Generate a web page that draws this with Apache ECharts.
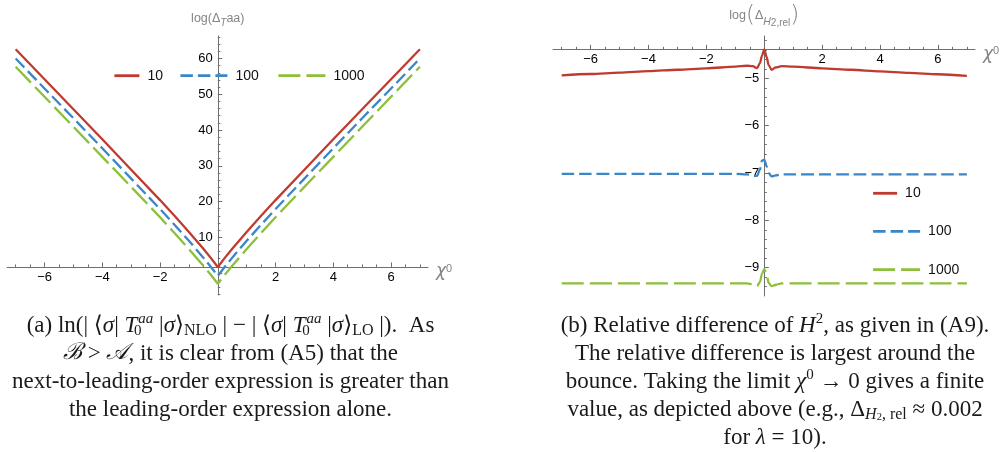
<!DOCTYPE html>
<html><head><meta charset="utf-8">
<script src="https://cdn.jsdelivr.net/npm/echarts@6/dist/echarts.min.js"></script>
<style>html,body{margin:0;padding:0;background:#fff}#c{width:1000px;height:452px}</style>
</head><body><div id="c"></div>
<script>
// ---------- data ----------
const seriesNames = ['10', '100', '1000'];

// panel (a): log(Δ_T^aa) vs χ0
const xA = [-7, -6, -5, -4, -3, -2, -1.5, -1, -0.5, -0.25, 0, 0.25, 0.5, 1, 1.5, 2, 3, 4, 5, 6, 7];
const aRed = [62.6, 54.2, 45.8, 37.4, 28.9, 20.4, 16.0, 11.5, 6.8, 4.3, 1.7, 4.3, 6.8, 11.5, 16.0, 20.4, 28.9, 37.4, 45.8, 54.2, 62.6];
const aBlue = [60.0, 51.6, 43.3, 34.9, 26.4, 17.9, 13.5, 9.0, 4.3, 1.8, -0.8, 1.8, 4.3, 9.0, 13.5, 17.9, 26.4, 34.9, 43.3, 51.6, 60.0];
const aGreen = [57.7, 49.3, 40.9, 32.5, 24.1, 15.6, 11.2, 6.7, 2.0, -0.4, -3.0, -0.4, 2.0, 6.7, 11.2, 15.6, 24.1, 32.5, 40.9, 49.3, 57.7];

// panel (b): log(Δ_H2,rel) vs χ0
const xB = [-7, -6, -5, -4, -3, -2, -1, -0.6, -0.4, -0.25, -0.15, -0.08, 0, 0.08, 0.15, 0.25, 0.4, 0.6, 1, 2, 3, 4, 5, 6, 7];
const bRed = [-4.94, -4.91, -4.88, -4.85, -4.82, -4.79, -4.755, -4.735, -4.745, -4.785, -4.68, -4.52, -4.39, -4.55, -4.72, -4.82, -4.77, -4.745, -4.755, -4.79, -4.82, -4.855, -4.885, -4.915, -4.95];
const bBlue = [-7.02, -7.02, -7.02, -7.02, -7.02, -7.02, -7.02, -7.03, -7.05, -7.06, -6.93, -6.74, -6.72, -6.86, -7.0, -7.07, -7.05, -7.03, -7.03, -7.03, -7.03, -7.03, -7.03, -7.03, -7.03];
const bGreen = [-9.33, -9.33, -9.33, -9.33, -9.33, -9.33, -9.33, -9.33, -9.35, -9.39, -9.3, -9.13, -9.03, -9.15, -9.32, -9.39, -9.36, -9.33, -9.33, -9.33, -9.33, -9.33, -9.33, -9.33, -9.33];

// axis ranges and crossings
const xRange = [-7.3, 7.28];
const aYRange = [-6.15, 66.3];
const aXAxisCross = 1.7;   // y value where the horizontal axis of (a) sits
const bYRange = [-9.598, -4.107];
const bXAxisCross = -4.388; // y value where the horizontal axis of (b) sits
const yAxisCross = 0;       // x value where the vertical axes sit

// tick values
const xMajorTicks = [-6, -4, -2, 2, 4, 6];
const xMinorTicks = [-7, -6.5, -5.5, -5, -4.5, -3.5, -3, -2.5, -1.5, -1, -0.5, 0.5, 1, 1.5, 2.5, 3, 3.5, 4.5, 5, 5.5, 6.5, 7];
const aYMajorTicks = [0, 10, 20, 30, 40, 50, 60];
const aYLabels = [10, 20, 30, 40, 50, 60];
const aYMinorTicks = [-6, -4, -2, 2, 4, 6, 8, 12, 14, 16, 18, 22, 24, 26, 28, 32, 34, 36, 38, 42, 44, 46, 48, 52, 54, 56, 58, 62, 64, 66];
const bYMajorTicks = [-9, -8, -7, -6, -5];
const bYMinorTicks = [-9.4, -9.2, -8.8, -8.6, -8.4, -8.2, -7.8, -7.6, -7.4, -7.2, -6.8, -6.6, -6.4, -6.2, -5.8, -5.6, -5.4, -5.2, -4.8, -4.6, -4.4, -4.2];

// ---------- layout / style ----------
const panels = [
  { left: 7, top: 36, width: 421, height: 259 },
  { left: 553, top: 36, width: 422, height: 260 }
];
const colors = ['#BF3A2F', '#3A86C6', '#8CBF3A'];
const dashes = ['solid', [12.5, 5], [22, 6]];
const axisGray = '#6f6f6f';
const nameGray = '#858585';
const tickFont = 'Liberation Sans';
const serif = "'Liberation Serif', 'DejaVu Serif', serif";

const fmt = v => (v < 0 ? '\u2212' + Math.abs(v) : String(v));
function pairs(xs, ys) { return xs.map((x, i) => [x, ys[i]]); }

// grids: data grid, grid whose bottom edge is the horizontal axis, grid whose left edge is the vertical axis
function panelGrids(p, yRange, xCross) {
  const fracTop = (yRange[1] - xCross) / (yRange[1] - yRange[0]);
  const fracLeft = (yAxisCross - xRange[0]) / (xRange[1] - xRange[0]);
  const base = { containLabel: false, outerBoundsMode: 'none' };
  return [
    Object.assign({}, base, { left: p.left, top: p.top, width: p.width, height: p.height }),
    Object.assign({}, base, { left: p.left, top: p.top, width: p.width, height: p.height * fracTop }),
    Object.assign({}, base, { left: p.left + p.width * fracLeft, top: p.top, width: 10, height: p.height })
  ];
}

const hiddenAxis = (gridIndex, min, max) => ({ type: 'value', gridIndex, min, max, show: false,
  axisLine: { onZero: false }, splitLine: { show: false } });

const tickLabelStyle = { color: '#000', fontSize: 13, fontFamily: tickFont };

function majorX(gridIndex) {
  return {
    type: 'value', gridIndex, min: xRange[0], max: xRange[1], position: 'bottom',
    axisLine: { show: true, onZero: false, lineStyle: { color: axisGray, width: 1 } },
    axisTick: { show: true, inside: true, length: 4.5, customValues: xMajorTicks, lineStyle: { color: axisGray } },
    axisLabel: Object.assign({ show: true, margin: 4, customValues: xMajorTicks, formatter: fmt }, tickLabelStyle),
    splitLine: { show: false },
    name: '{c|\u03C7}{s|0}', nameLocation: 'end', nameGap: 8,
    nameTextStyle: { padding: [10, 0, 0, 0], rich: {
      c: { fontSize: 17, fontStyle: 'italic', color: nameGray, fontFamily: 'DejaVu Sans', fontWeight: 200 },
      s: { fontSize: 11, color: nameGray, verticalAlign: 'top', fontFamily: 'Liberation Sans' } } }
  };
}
function minorX(gridIndex) {
  return {
    type: 'value', gridIndex, min: xRange[0], max: xRange[1], position: 'bottom',
    axisLine: { show: false, onZero: false },
    axisTick: { show: true, inside: true, length: 2.5, customValues: xMinorTicks, lineStyle: { color: axisGray } },
    axisLabel: { show: false, customValues: xMinorTicks },
    splitLine: { show: false }
  };
}
function majorY(gridIndex, range, ticks, labels, name, nameGap, rich) {
  return {
    type: 'value', gridIndex, min: range[0], max: range[1], position: 'left',
    axisLine: { show: true, onZero: false, lineStyle: { color: axisGray, width: 1 } },
    axisTick: { show: true, inside: true, length: 4.5, customValues: ticks, lineStyle: { color: axisGray } },
    axisLabel: Object.assign({ show: true, margin: 5, customValues: labels, formatter: fmt }, tickLabelStyle),
    splitLine: { show: false },
    name, nameLocation: 'end', nameGap,
    nameTextStyle: { align: 'center', rich }
  };
}
function minorY(gridIndex, range, ticks) {
  return {
    type: 'value', gridIndex, min: range[0], max: range[1], position: 'left',
    axisLine: { show: false, onZero: false },
    axisTick: { show: true, inside: true, length: 2.5, customValues: ticks, lineStyle: { color: axisGray } },
    axisLabel: { show: false, customValues: ticks },
    splitLine: { show: false }
  };
}

const nameRichA = {
  a: { fontSize: 12.5, color: nameGray, fontFamily: 'Liberation Sans', lineHeight: 18, verticalAlign: 'middle' },
  s: { fontSize: 10, color: nameGray, fontFamily: 'Liberation Sans', fontStyle: 'italic', lineHeight: 12, verticalAlign: 'bottom' }
};
const nameRichB = {
  a: { fontSize: 12.5, color: nameGray, fontFamily: 'Liberation Sans', lineHeight: 24, verticalAlign: 'middle' },
  p: { fontSize: 23, color: nameGray, fontFamily: 'DejaVu Sans', fontWeight: 200, lineHeight: 24, verticalAlign: 'middle' },
  s: { fontSize: 10.5, color: nameGray, fontFamily: 'Liberation Sans', fontStyle: 'italic', lineHeight: 12, verticalAlign: 'bottom' },
  t: { fontSize: 10, color: nameGray, fontFamily: 'Liberation Sans', lineHeight: 20, verticalAlign: 'bottom' },
  r: { fontSize: 10, color: nameGray, fontFamily: 'Liberation Sans', lineHeight: 12, verticalAlign: 'bottom' }
};

function mkSeries(xIdx, yIdx, xs, ysList, smooth) {
  return ysList.map((ys, k) => ({
    type: 'line', name: seriesNames[k], xAxisIndex: xIdx, yAxisIndex: yIdx,
    data: pairs(xs, ys), symbol: 'none', showSymbol: false, smooth, smoothMonotone: 'x', clip: false,
    lineStyle: { color: colors[k], width: 2.3, type: dashes[k] }, itemStyle: { color: colors[k] },
    z: 3 - k
  }));
}

function mkLegend(name, left, centerY, width) {
  return {
    data: [name], left, top: centerY - 7, orient: 'horizontal', itemWidth: width, itemHeight: 14,
    padding: 0, selectedMode: false,
    itemStyle: { opacity: 0 },
    lineStyle: { width: 2.8 },
    textStyle: { fontSize: 14, color: '#111', fontFamily: tickFont, padding: [0, 0, 0, 3] }
  };
}

// captions
const capRich = {
  i: { fontStyle: 'italic', fontSize: 23, fontFamily: serif, lineHeight: 27 },
  sup: { fontStyle: 'italic', fontSize: 15, fontFamily: serif, lineHeight: 15, verticalAlign: 'top' },
  supr: { fontSize: 15, fontFamily: serif, lineHeight: 15, verticalAlign: 'top' },
  sub0: { fontSize: 15, fontFamily: serif, lineHeight: 12, verticalAlign: 'bottom', width: 1 },
  sc: { fontSize: 16, fontFamily: serif, lineHeight: 15, verticalAlign: 'bottom' },
  subi: { fontStyle: 'italic', fontSize: 16, fontFamily: serif, lineHeight: 15, verticalAlign: 'bottom' },
  subs: { fontSize: 10.5, fontFamily: serif, lineHeight: 25, verticalAlign: 'bottom' },
  subr: { fontSize: 16, fontFamily: serif, lineHeight: 15, verticalAlign: 'bottom' },
  cal: { fontStyle: 'italic', fontSize: 23, fontFamily: "'DejaVu Serif', serif", lineHeight: 27 }
};
const T0aa = '{i|T}{sub0|0}{sup|aa}';
const capA = [
  '(a) ln(| \u27E8{i|\u03C3}| ' + T0aa + ' |{i|\u03C3}\u27E9{sc|NLO} | \u2212 | \u27E8{i|\u03C3}| ' + T0aa + ' |{i|\u03C3}\u27E9{sc|LO} |).  As',
  '{cal|\u212C} > {cal|\uD835\uDC9C}, it is clear from (A5) that the',
  'next-to-leading-order expression is greater than',
  'the leading-order expression alone.'
];
const capB = [
  '(b) Relative difference of {i|H}{supr|2}, as given in (A9).',
  'The relative difference is largest around the',
  'bounce. Taking the limit {i|\u03C7}{supr|0} \u2192 0 gives a finite',
  'value, as depicted above (e.g., \u0394{subi|H}{subs|2}{subr|, rel} \u2248 0.002',
  'for {i|\u03BB} = 10).'
];
const capAY = [325.5, 353.5, 381.5, 409.5];
const capBY = [325.5, 353.5, 381.5, 409.5, 437.5];

function capText(lines, cx, ys) {
  return lines.map((t, k) => ({
    type: 'text', x: cx, y: ys[k], silent: true,
    style: { text: t, rich: capRich, fontSize: 23, fontFamily: serif, fill: '#1a1a1a', lineHeight: 27,
             align: 'center', verticalAlign: 'middle' }
  }));
}

const gridsA = panelGrids(panels[0], aYRange, aXAxisCross);
const gridsB = panelGrids(panels[1], bYRange, bXAxisCross);

const chart = echarts.init(document.getElementById('c'), null, { renderer: 'canvas' });
chart.setOption({
  animation: false,
  backgroundColor: '#fff',
  grid: gridsA.concat(gridsB),
  xAxis: [
    hiddenAxis(0, xRange[0], xRange[1]), majorX(1), minorX(1), hiddenAxis(2, xRange[0], xRange[1]),
    hiddenAxis(3, xRange[0], xRange[1]), majorX(4), minorX(4), hiddenAxis(5, xRange[0], xRange[1])
  ],
  yAxis: [
    hiddenAxis(0, aYRange[0], aYRange[1]), hiddenAxis(1, aXAxisCross, aYRange[1]),
    majorY(2, aYRange, aYMajorTicks, aYLabels, '{a|log(\u0394}{s|T}{a|aa)}', 8, nameRichA),
    minorY(2, aYRange, aYMinorTicks),
    hiddenAxis(3, bYRange[0], bYRange[1]), hiddenAxis(4, bXAxisCross, bYRange[1]),
    majorY(5, bYRange, bYMajorTicks, bYMajorTicks, '{a|log}{p|(}{a|\u0394}{s|H}{t|2}{r|,rel}{p|)}', 8, nameRichB),
    minorY(5, bYRange, bYMinorTicks)
  ],
  legend: [
    mkLegend('10', 113, 75.7, 25), mkLegend('100', 179, 75.7, 47), mkLegend('1000', 277, 75.7, 47),
    mkLegend('10', 871.7, 193.3, 24), mkLegend('100', 871.7, 231.3, 47), mkLegend('1000', 871.7, 269.7, 47)
  ],
  series: [].concat(mkSeries(0, 0, xA, [aRed, aBlue, aGreen], false), mkSeries(4, 4, xB, [bRed, bBlue, bGreen], 0.3)),
  graphic: [].concat(capText(capA, 230.5, capAY), capText(capB, 775, capBY))
});
</script></body></html>
